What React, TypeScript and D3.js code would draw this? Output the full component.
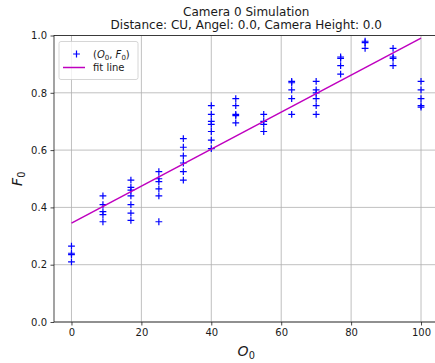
import { useEffect, useRef } from 'react';
import * as d3 from 'd3';

// ==========================================
// DATA
// ==========================================
const oValues = [0, 9, 17, 25, 32, 40, 47, 55, 63, 70, 77, 84, 92, 100];

const fValues = [
  [0.265, 0.24, 0.235, 0.21],
  [0.44, 0.41, 0.385, 0.375, 0.35],
  [0.495, 0.47, 0.46, 0.44, 0.41, 0.38, 0.355],
  [0.525, 0.5, 0.49, 0.465, 0.44, 0.35],
  [0.64, 0.61, 0.58, 0.555, 0.525, 0.495],
  [0.755, 0.725, 0.7, 0.69, 0.665, 0.635, 0.605],
  [0.78, 0.755, 0.725, 0.72, 0.695],
  [0.725, 0.7, 0.69, 0.665],
  [0.84, 0.835, 0.81, 0.78, 0.725],
  [0.84, 0.81, 0.8, 0.78, 0.755, 0.725],
  [0.925, 0.92, 0.895, 0.865],
  [0.98, 0.975, 0.955],
  [0.955, 0.925, 0.92, 0.895],
  [0.84, 0.81, 0.78, 0.755, 0.75],
];

const fitIntercept = 0.345;
const fitSlope = 0.00646;

const xTicks = [0, 20, 40, 60, 80, 100];
const yTicks = [0, 0.2, 0.4, 0.6, 0.8, 1.0];

const titleLines = [
  'Camera 0 Simulation',
  'Distance: CU, Angel: 0.0, Camera Height: 0.0',
];

const FONT = '"DejaVu Sans", Verdana, sans-serif';
const TEXT = '#1a1a1a';

type Part = { t: string; italic?: boolean; sub?: boolean };

const mathText = (
  sel: d3.Selection<SVGTextElement, unknown, null, undefined>,
  parts: Part[],
  size: number
) => {
  parts.forEach((p, i) => {
    const prevSub = i > 0 && parts[i - 1].sub;
    const ts = sel.append('tspan').text(p.t);
    if (p.italic) ts.style('font-style', 'italic');
    if (p.sub) {
      ts.attr('font-size', size * 0.7).attr('dy', size * 0.22);
    } else if (prevSub) {
      ts.attr('dy', -size * 0.22);
    }
  });
};

const App = () => {
  const svgRef = useRef<SVGSVGElement | null>(null);

  useEffect(() => {
    const width = 435;
    const height = 363;

    d3.select(svgRef.current).selectAll('*').remove();

    const svg = d3
      .select(svgRef.current)
      .attr('width', width)
      .attr('height', height)
      .attr('viewBox', `0 0 ${width} ${height}`);

    svg.append('rect').attr('width', width).attr('height', height).attr('fill', '#fff');

    // ==========================================
    // SCALES
    // ==========================================
    const left = 54;
    const right = 438.5;
    const top = 35.5;
    const bottom = 322;

    const x = d3.scaleLinear().domain([-5, 105]).range([left, right]);
    const y = d3.scaleLinear().domain([0, 1]).range([bottom, top]);

    // ==========================================
    // GRID
    // ==========================================
    const grid = svg.append('g');
    grid
      .selectAll('.vg')
      .data(xTicks)
      .enter()
      .append('line')
      .attr('x1', (d) => x(d))
      .attr('x2', (d) => x(d))
      .attr('y1', top)
      .attr('y2', bottom)
      .attr('stroke', '#b0b0b0')
      .attr('stroke-width', 0.8);
    grid
      .selectAll('.hg')
      .data(yTicks)
      .enter()
      .append('line')
      .attr('x1', left)
      .attr('x2', right)
      .attr('y1', (d) => y(d))
      .attr('y2', (d) => y(d))
      .attr('stroke', '#b0b0b0')
      .attr('stroke-width', 0.8);

    // ==========================================
    // AXES
    // ==========================================
    const xAxis = svg
      .append('g')
      .attr('transform', `translate(0,${bottom})`)
      .call(
        d3
          .axisBottom(x)
          .tickValues(xTicks)
          .tickSize(3.5)
          .tickPadding(3.5)
          .tickFormat(d3.format('d'))
      );
    const yAxis = svg
      .append('g')
      .attr('transform', `translate(${left},0)`)
      .call(
        d3
          .axisLeft(y)
          .tickValues(yTicks)
          .tickSize(3.5)
          .tickPadding(3.5)
          .tickFormat(d3.format('.1f'))
      );

    [xAxis, yAxis].forEach((ax) => {
      ax.select('.domain').remove();
      ax.selectAll('line').attr('stroke', TEXT).attr('stroke-width', 0.8);
      ax.selectAll('text')
        .attr('fill', TEXT)
        .style('font-family', FONT)
        .style('font-size', '10px');
    });

    // spines
    const spine = svg.append('g').attr('stroke', TEXT).attr('stroke-width', 0.8).attr('fill', 'none');
    spine.append('rect')
      .attr('x', left)
      .attr('y', top)
      .attr('width', right - left)
      .attr('height', bottom - top);

    // ==========================================
    // POINTS
    // ==========================================
    const points = oValues.flatMap((o, i) => fValues[i].map((f) => ({ o, f })));
    const r = 3.4;
    svg
      .append('g')
      .selectAll('path')
      .data(points)
      .enter()
      .append('path')
      .attr('d', (d) => {
        const px = x(d.o);
        const py = y(d.f);
        return `M${px - r},${py}H${px + r}M${px},${py - r}V${py + r}`;
      })
      .attr('stroke', '#0000ff')
      .attr('stroke-width', 1.2)
      .attr('fill', 'none');

    // ==========================================
    // FIT LINE
    // ==========================================
    const xExtent = d3.extent(oValues) as [number, number];
    const line = d3
      .line<number>()
      .x((d) => x(d))
      .y((d) => y(fitIntercept + fitSlope * d));
    svg
      .append('path')
      .datum(xExtent)
      .attr('d', line)
      .attr('stroke', '#bf00bf')
      .attr('stroke-width', 1.5)
      .attr('fill', 'none');

    // ==========================================
    // LEGEND
    // ==========================================
    const lg = svg.append('g');
    lg.append('rect')
      .attr('x', 59)
      .attr('y', 41.5)
      .attr('width', 79)
      .attr('height', 38)
      .attr('rx', 2)
      .attr('fill', 'rgba(255,255,255,0.8)')
      .attr('stroke', '#cccccc')
      .attr('stroke-width', 0.8);
    lg.append('path')
      .attr('d', `M${76.5 - r},54H${76.5 + r}M76.5,${54 - r}V${54 + r}`)
      .attr('stroke', '#0000ff')
      .attr('stroke-width', 1.2);
    const l1 = lg
      .append('text')
      .attr('x', 93)
      .attr('y', 57.5)
      .attr('fill', TEXT)
      .style('font-family', FONT)
      .style('font-size', '10px');
    mathText(
      l1,
      [
        { t: '(' },
        { t: 'O', italic: true },
        { t: '0', sub: true },
        { t: ', ' },
        { t: 'F', italic: true },
        { t: '0', sub: true },
        { t: ')' },
      ],
      10
    );
    lg.append('line')
      .attr('x1', 63)
      .attr('x2', 85)
      .attr('y1', 67.5)
      .attr('y2', 67.5)
      .attr('stroke', '#bf00bf')
      .attr('stroke-width', 1.5);
    lg.append('text')
      .attr('x', 93)
      .attr('y', 71)
      .attr('fill', TEXT)
      .style('font-family', FONT)
      .style('font-size', '10px')
      .text('fit line');

    // ==========================================
    // TITLE + LABELS
    // ==========================================
    const cx = (left + right) / 2;
    svg
      .selectAll('.title')
      .data(titleLines)
      .enter()
      .append('text')
      .attr('x', cx)
      .attr('y', (_d, i) => 15.5 + i * 13.5)
      .attr('text-anchor', 'middle')
      .attr('fill', TEXT)
      .style('font-family', FONT)
      .style('font-size', '12px')
      .text((d) => d);

    const xl = svg
      .append('text')
      .attr('x', cx)
      .attr('y', 356)
      .attr('text-anchor', 'middle')
      .attr('fill', TEXT)
      .style('font-family', FONT)
      .style('font-size', '14px');
    mathText(xl, [{ t: 'O', italic: true }, { t: '0', sub: true }], 14);

    const yl = svg
      .append('text')
      .attr('transform', `translate(22,${(top + bottom) / 2}) rotate(-90)`)
      .attr('text-anchor', 'middle')
      .attr('fill', TEXT)
      .style('font-family', FONT)
      .style('font-size', '14px');
    mathText(yl, [{ t: 'F', italic: true }, { t: '0', sub: true }], 14);
  }, []);

  return (
    <svg
      ref={svgRef}
      style={{ position: 'absolute', left: 0, top: 0, display: 'block' }}
    ></svg>
  );
};

export default App;
